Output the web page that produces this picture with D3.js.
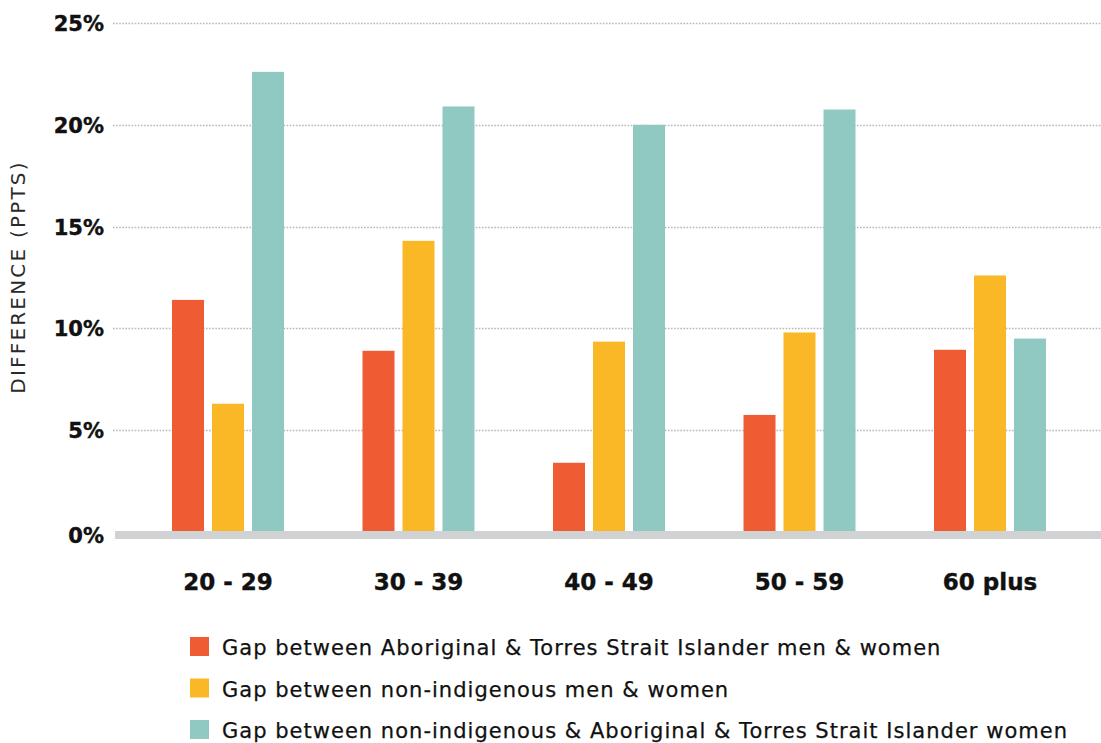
<!DOCTYPE html>
<html>
<head>
<meta charset="utf-8">
<script src="https://cdn.jsdelivr.net/npm/d3@7"></script>
<style>
  html, body { margin: 0; padding: 0; background: #fff; }
  svg { display: block; }
</style>
</head>
<body>
<svg id="chart" width="1101" height="743"></svg>
<script>
const categories = ["20 - 29", "30 - 39", "40 - 49", "50 - 59", "60 plus"];
const seriesNames = [
  "Gap between Aboriginal & Torres Strait Islander men & women",
  "Gap between non-indigenous men & women",
  "Gap between non-indigenous & Aboriginal & Torres Strait Islander women"
];
const seriesColors = ["#EF5B33", "#FBB826", "#90C9C2"];
const aboriginalGap = [11.4, 8.9, 3.4, 5.75, 8.95];
const nonIndigenousGap = [6.3, 14.3, 9.35, 9.8, 12.6];
const womenGap = [22.6, 20.9, 20.0, 20.75, 9.5];
const yTicks = [0, 5, 10, 15, 20, 25];
const yTitle = "DIFFERENCE (PPTS)";

const seriesValues = [aboriginalGap, nonIndigenousGap, womenGap];
const data = categories.map((c, i) => ({
  cat: c,
  vals: seriesValues.map((s, j) => ({ key: j, v: s[i] }))
}));

const svg = d3.select("#chart");
const W = 1101;

const y = d3.scaleLinear().domain([0, 25]).range([532, 23]);
const x = d3.scaleBand().domain(categories).range([132.75, 1085.25]).paddingInner(0).paddingOuter(0);
const xs = d3.scaleBand().domain([0, 1, 2]).range([0, 112]).paddingInner(0.2).paddingOuter(0);

// gridlines
const grid = svg.append("g");
grid.selectAll("line").data(yTicks.filter(t => t > 0)).join("line")
  .attr("x1", 113).attr("x2", W)
  .attr("y1", d => Math.round(y(d)) + 0.5).attr("y2", d => Math.round(y(d)) + 0.5)
  .attr("stroke", "#b8b8b8").attr("stroke-width", 1.4)
  .attr("stroke-dasharray", "1.6,1.5");

// bars
const groups = svg.append("g").selectAll("g").data(data).join("g")
  .attr("transform", d => `translate(${x(d.cat) + x.bandwidth() / 2 - 56},0)`);
groups.selectAll("rect").data(d => d.vals).join("rect")
  .attr("x", d => xs(d.key))
  .attr("width", xs.bandwidth())
  .attr("y", d => y(d.v))
  .attr("height", d => y(0) - 1 - y(d.v))
  .attr("fill", d => seriesColors[d.key]);

// baseline
svg.append("rect")
  .attr("x", 115).attr("y", y(0) - 1)
  .attr("width", W - 115).attr("height", 8)
  .attr("fill", "#d1d2d4");

// y tick labels
const yAxis = d3.axisLeft(y).tickValues(yTicks).tickFormat(d => d + "%").tickSize(0).tickPadding(0);
const yg = svg.append("g").attr("transform", "translate(104,0)").call(yAxis);
yg.select(".domain").remove();
yg.selectAll("text")
  .attr("font-family", "'DejaVu Sans', sans-serif")
  .attr("font-weight", "bold")
  .attr("font-size", 21)
  .attr("fill", "#111")
  .attr("stroke", "#111")
  .attr("stroke-width", 0.4)
  .attr("dy", "0.36em");
yg.selectAll(".tick").filter(d => d === 0).select("text").attr("dy", "0.5em");

// x labels
const xAxis = d3.axisBottom(x).tickSize(0).tickPadding(0);
const xg = svg.append("g").attr("transform", "translate(0,574)").call(xAxis);
xg.select(".domain").remove();
xg.selectAll("text")
  .attr("font-family", "'DejaVu Sans', sans-serif")
  .attr("font-weight", "bold")
  .attr("font-size", 23)
  .attr("fill", "#111")
  .attr("stroke", "#111")
  .attr("stroke-width", 0.4)
  .attr("dy", "0.71em");

// y title
svg.append("text")
  .attr("transform", "translate(25,277) rotate(-90)")
  .attr("text-anchor", "middle")
  .attr("font-family", "'DejaVu Sans', sans-serif")
  .attr("font-size", 20)
  .attr("letter-spacing", 2.2)
  .attr("fill", "#2a2a2a")
  .text(yTitle);

// legend
const leg = svg.append("g").selectAll("g").data(seriesNames).join("g")
  .attr("transform", (d, i) => `translate(190,${637 + i * 41.5})`);
leg.append("rect").attr("width", 19).attr("height", 19).attr("fill", (d, i) => seriesColors[i]);
leg.append("text")
  .attr("x", 32).attr("y", 18)
  .attr("font-family", "'DejaVu Sans', sans-serif")
  .attr("font-size", 21)
  .attr("letter-spacing", 1.02)
  .attr("fill", "#111")
  .attr("stroke", "#111")
  .attr("stroke-width", 0.25)
  .text(d => d);
</script>
</body>
</html>
